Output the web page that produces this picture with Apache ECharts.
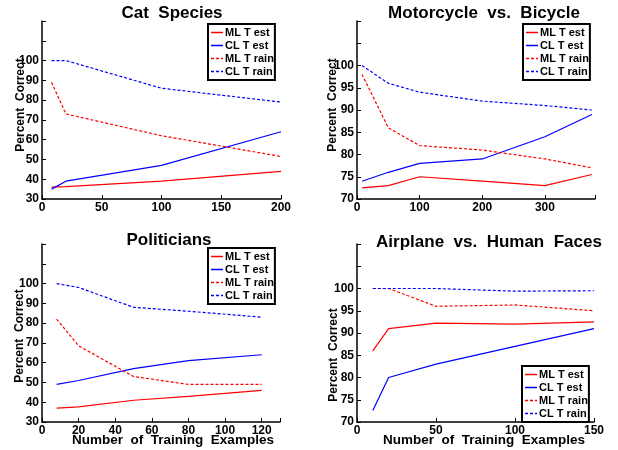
<!DOCTYPE html>
<html>
<head>
<meta charset="utf-8">
<script src="https://cdn.jsdelivr.net/npm/echarts@6/dist/echarts.min.js"></script>
<style>
  html, body { margin: 0; padding: 0; background: #fff; }
  #main { width: 618px; height: 450px; }
</style>
</head>
<body>
<div id="main"></div>
<script>
// 数据
var seriesNames = ['ML T est', 'CL T est', 'ML T rain', 'CL T rain'];

// Cat Species
var catX = [8, 20, 100, 200];
var catMLTest = [36, 36.3, 39, 44];
var catCLTest = [35, 39, 47, 64];
var catMLTrain = [89, 73, 62, 51.5];
var catCLTrain = [100, 100, 86, 79];

// Motorcycle vs. Bicycle
var motoX = [8, 50, 100, 200, 300, 375];
var motoMLTest = [72.5, 73, 75, 74, 73, 75.5];
var motoCLTest = [74, 76, 78, 79, 84, 89];
var motoMLTrain = [98, 86, 82, 81, 79, 77];
var motoCLTrain = [100, 96, 94, 92, 91, 90];

// Politicians
var polX = [8, 20, 50, 80, 120];
var polMLTest = [37, 37.6, 41, 43, 46];
var polCLTest = [49, 51, 57, 61, 64];
var polMLTrain = [82, 68.5, 53, 49, 49];
var polCLTrain = [100, 98, 88, 86, 83];

// Airplane vs. Human Faces
var airX = [10, 20, 50, 100, 150];
var airMLTest = [86, 91, 92.2, 92, 92.5];
var airCLTest = [72.6, 80, 83, 87, 91];
var airMLTrain = [100, 100, 96, 96.3, 95];
var airCLTrain = [100, 100, 100, 99.4, 99.5];

var font = 'Liberation Sans, Arial, Helvetica, sans-serif';
var colors = ['#ff0000', '#0000ff', '#ff0000', '#0000ff'];

function zip(xs, ys) {
	var out = [];
	for (let i = 0; i < xs.length; i++) {
		out.push([xs[i], ys[i]]);
	}
	return out;
}

var grids = [
	{left: 42, top: 21, width: 239, height: 178},
	{left: 357, top: 21, width: 238, height: 178},
	{left: 42, top: 244, width: 238, height: 178},
	{left: 357, top: 244, width: 237, height: 178}
];

var xRanges = [[0, 200, 50], [0, 380, 100], [0, 130, 20], [0, 150, 50]];
var yRanges = [[30, 120, 10], [70, 110, 5], [30, 120, 10], [70, 110, 5]];

var panels = [
	[catX, catMLTest, catCLTest, catMLTrain, catCLTrain],
	[motoX, motoMLTest, motoCLTest, motoMLTrain, motoCLTrain],
	[polX, polMLTest, polCLTest, polMLTrain, polCLTrain],
	[airX, airMLTest, airCLTest, airMLTrain, airCLTrain]
];

var legendPos = [[208, 24], [523, 24], [208, 248], [522, 366]];

// 图例图标: 实线 / 虚线
var solidIcon = 'path://M0,0H12V1.5H0Z';
var dashIcon = 'path://M0,0H3V1.5H0Z M5,0H8V1.5H5Z M10,0H12V1.5H10Z';

var xAxes = [], yAxes = [], series = [], legends = [];
for (let i = 0; i < 4; i++) {
	let xr = xRanges[i], yr = yRanges[i];
	xAxes.push({
		type: 'value', gridIndex: i, min: xr[0], max: xr[1], interval: xr[2],
		axisLine: {onZero: false, lineStyle: {color: '#000', width: 1.5}},
		axisTick: {inside: true, length: 4, lineStyle: {color: '#000'}},
		splitLine: {show: false},
		axisLabel: {
			margin: 3, color: '#000', fontFamily: font, fontWeight: 'bold', fontSize: 12,
			formatter: function (v) { return v % xr[2] === 0 ? String(v) : ''; }
		}
	});
	yAxes.push({
		type: 'value', gridIndex: i, min: yr[0], max: yr[1], interval: yr[2],
		axisLine: {show: true, onZero: false, lineStyle: {color: '#000', width: 1.5}},
		axisTick: {show: true, inside: true, length: 4, lineStyle: {color: '#000'}},
		splitLine: {show: false},
		axisLabel: {
			margin: 3, color: '#000', fontFamily: font, fontWeight: 'bold', fontSize: 12,
			formatter: function (v) { return v > 100 ? '' : String(v); }
		}
	});
	let p = panels[i];
	for (let s = 0; s < 4; s++) {
		series.push({
			name: seriesNames[s],
			type: 'line',
			xAxisIndex: i, yAxisIndex: i,
			data: zip(p[0], p[s + 1]),
			symbol: 'none', showSymbol: false,
			itemStyle: {color: colors[s], borderColor: colors[s]},
			lineStyle: {color: colors[s], width: 1.2, type: s < 2 ? 'solid' : [3, 2]},
			emphasis: {disabled: true}
		});
	}
	legends.push({
		left: legendPos[i][0], top: legendPos[i][1],
		orient: 'vertical',
		itemWidth: 12, itemHeight: 1.5, itemGap: 2,
		padding: [3, 1, 3, 3],
		borderColor: '#000', borderWidth: 2, backgroundColor: '#fff',
		itemStyle: {borderWidth: 0},
		textStyle: {fontFamily: font, fontWeight: 'bold', fontSize: 11, color: '#000', padding: [0, 0, 0, -3]},
		data: seriesNames.map(function (n, k) {
			return {
				name: n,
				icon: k < 2 ? solidIcon : dashIcon,
				itemStyle: {color: colors[k], borderColor: colors[k], borderWidth: 0}
			};
		})
	});
}

function label(text, x, y, size, rot) {
	return {
		type: 'text', x: x, y: y, rotation: rot || 0,
		style: {
			text: text, fill: '#000', font: 'bold ' + size + 'px ' + font,
			textAlign: 'center', textVerticalAlign: 'middle'
		}
	};
}

var myChart = echarts.init(document.getElementById('main'));
var option = {
	animation: false,
	backgroundColor: '#fff',
	grid: grids,
	xAxis: xAxes,
	yAxis: yAxes,
	legend: legends,
	series: series,
	graphic: [
		label('Cat  Species', 172, 13, 17),
		label('Motorcycle  vs.  Bicycle', 484, 13, 17),
		label('Politicians', 169, 240, 17),
		label('Airplane  vs.  Human  Faces', 489, 242, 17),
		label('Percent  Correct', 21, 105, 12, Math.PI / 2),
		label('Percent  Correct', 333, 105, 12, Math.PI / 2),
		label('Percent  Correct', 20, 336, 12, Math.PI / 2),
		label('Percent  Correct', 334, 355, 12, Math.PI / 2),
		label('Number  of  Training  Examples', 173, 440, 13.5),
		label('Number  of  Training  Examples', 484, 440, 13.5)
	]
};
myChart.setOption(option);
</script>
</body>
</html>
